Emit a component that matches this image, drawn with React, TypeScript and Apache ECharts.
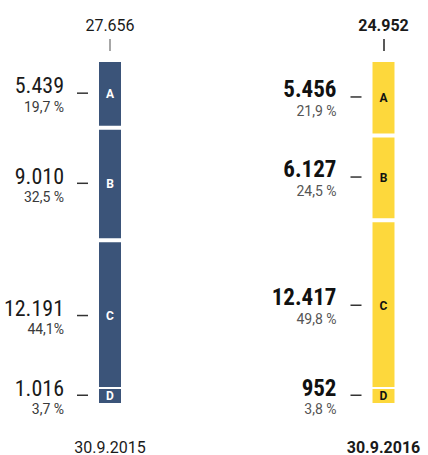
import React, { useEffect, useRef } from 'react';
import * as echarts from 'echarts';

const segments = ['A', 'B', 'C', 'D'];
const dates = ['30.9.2015', '30.9.2016'];
const totals = [27656, 24952];
const values2015 = [5439, 9010, 12191, 1016];
const values2016 = [5456, 6127, 12417, 952];
const percents2015 = ['19,7 %', '32,5 %', '44,1%', '3,7 %'];
const percents2016 = ['21,9 %', '24,5 %', '49,8 %', '3,8 %'];

const fmt = (n: number) => String(n).replace(/\B(?=(\d{3})+(?!\d))/g, '.');

const BASE_FONT = 'Roboto, sans-serif';
const NARROW_FONT = "'Liberation Sans Narrow', 'Roboto Condensed', Roboto, sans-serif";

export default function App() {
  const ref = useRef<HTMLDivElement>(null);

  useEffect(() => {
    if (!ref.current) return;
    const chart = echarts.init(ref.current, undefined, { renderer: 'svg' });

    const cols = [
      {
        values: values2015,
        percents: percents2015,
        color: '#3b5479',
        letterColor: '#ffffff',
        valueColor: '#1a1a1a',
        valueWeight: 'normal',
        valueSize: 22,
        pctColor: '#3a3a3a',
        tickColor: '#8a8a8a',
        textWeight: 'normal',
        gap: 13,
      },
      {
        values: values2016,
        percents: percents2016,
        color: '#fdd83c',
        letterColor: '#111111',
        valueColor: '#111111',
        valueWeight: 'bold',
        valueSize: 23,
        pctColor: '#555555',
        tickColor: '#222222',
        textWeight: 'bold',
        gap: 14,
      },
    ];

    const grids = [
      { left: 60, width: 100, top: 60, height: 345 },
      { left: 339, width: 100, top: 60, height: 345 },
    ];

    const xAxis: any[] = [];
    const yAxis: any[] = [];
    const series: any[] = [];

    cols.forEach((c, i) => {
      xAxis.push({
        type: 'category',
        gridIndex: i,
        data: [dates[i]],
        position: 'bottom',
        axisLine: { show: false },
        axisTick: { show: false },
        axisLabel: {
          margin: 34,
          fontSize: 16,
          fontFamily: BASE_FONT,
          fontWeight: c.textWeight,
          color: '#1a1a1a',
        },
      });
      xAxis.push({
        type: 'category',
        gridIndex: i,
        data: [fmt(totals[i])],
        position: 'top',
        offset: 9,
        axisLine: { show: false },
        axisTick: {
          show: true,
          alignWithLabel: true,
          length: 12,
          lineStyle: { color: c.tickColor, width: 1.5 },
        },
        axisLabel: {
          margin: 18,
          fontSize: 16,
          fontFamily: BASE_FONT,
          fontWeight: c.textWeight,
          color: '#1a1a1a',
        },
      });
      yAxis.push({
        type: 'value',
        gridIndex: i,
        min: 0,
        max: totals[i],
        show: false,
      });

      // bottom-first stacking order: D, C, B, A
      for (let k = segments.length - 1; k >= 0; k--) {
        const isD = k === segments.length - 1;
        series.push({
          type: 'bar',
          name: segments[k],
          xAxisIndex: i * 2,
          yAxisIndex: i,
          stack: 'vis' + i,
          barWidth: 26,
          barGap: '-100%',
          barMinHeight: isD ? 18 : 0,
          z: isD ? 3 : 2,
          data: [c.values[k]],
          itemStyle: { color: c.color, borderColor: '#ffffff', borderWidth: 2 },
          label: {
            show: true,
            position: 'inside',
            formatter: segments[k],
            color: c.letterColor,
            fontSize: 12,
            fontWeight: 'bold',
            fontFamily: BASE_FONT,
          },
          silent: true,
        });
      }
      for (let k = segments.length - 1; k >= 0; k--) {
        const isD = k === segments.length - 1;
        series.push({
          type: 'bar',
          name: segments[k] + '-label',
          xAxisIndex: i * 2,
          yAxisIndex: i,
          stack: 'lab' + i,
          barWidth: 26,
          barGap: '-100%',
          barMinHeight: isD ? 18 : 0,
          z: 4,
          data: [c.values[k]],
          itemStyle: { color: 'rgba(0,0,0,0)' },
          label: {
            show: true,
            position: 'left',
            distance: 9,
            offset: [0, 5],
            align: 'right',
            formatter: `{v|${fmt(c.values[k])}}{g| }{d| }\n{p|${c.percents[k]}}{g2| }`,
            rich: {
              v: {
                fontSize: c.valueSize,
                fontFamily: NARROW_FONT,
                fontWeight: c.valueWeight,
                color: c.valueColor,
                lineHeight: 16,
              },
              g: { width: c.gap, lineHeight: 16 },
              d: {
                width: 11,
                height: 1.5,
                backgroundColor: '#333333',
                verticalAlign: 'bottom',
              },
              p: {
                fontSize: 14,
                fontFamily: BASE_FONT,
                color: c.pctColor,
                lineHeight: 26,
              },
              g2: { width: c.gap + 11, lineHeight: 26 },
            },
          },
          silent: true,
        });
      }
    });

    chart.setOption({
      animation: false,
      grid: grids,
      xAxis,
      yAxis,
      series,
    });

    return () => chart.dispose();
  }, []);

  return (
    <div
      ref={ref}
      style={{ position: 'fixed', left: 0, top: 0, width: 428, height: 455, background: '#fff' }}
    />
  );
}
